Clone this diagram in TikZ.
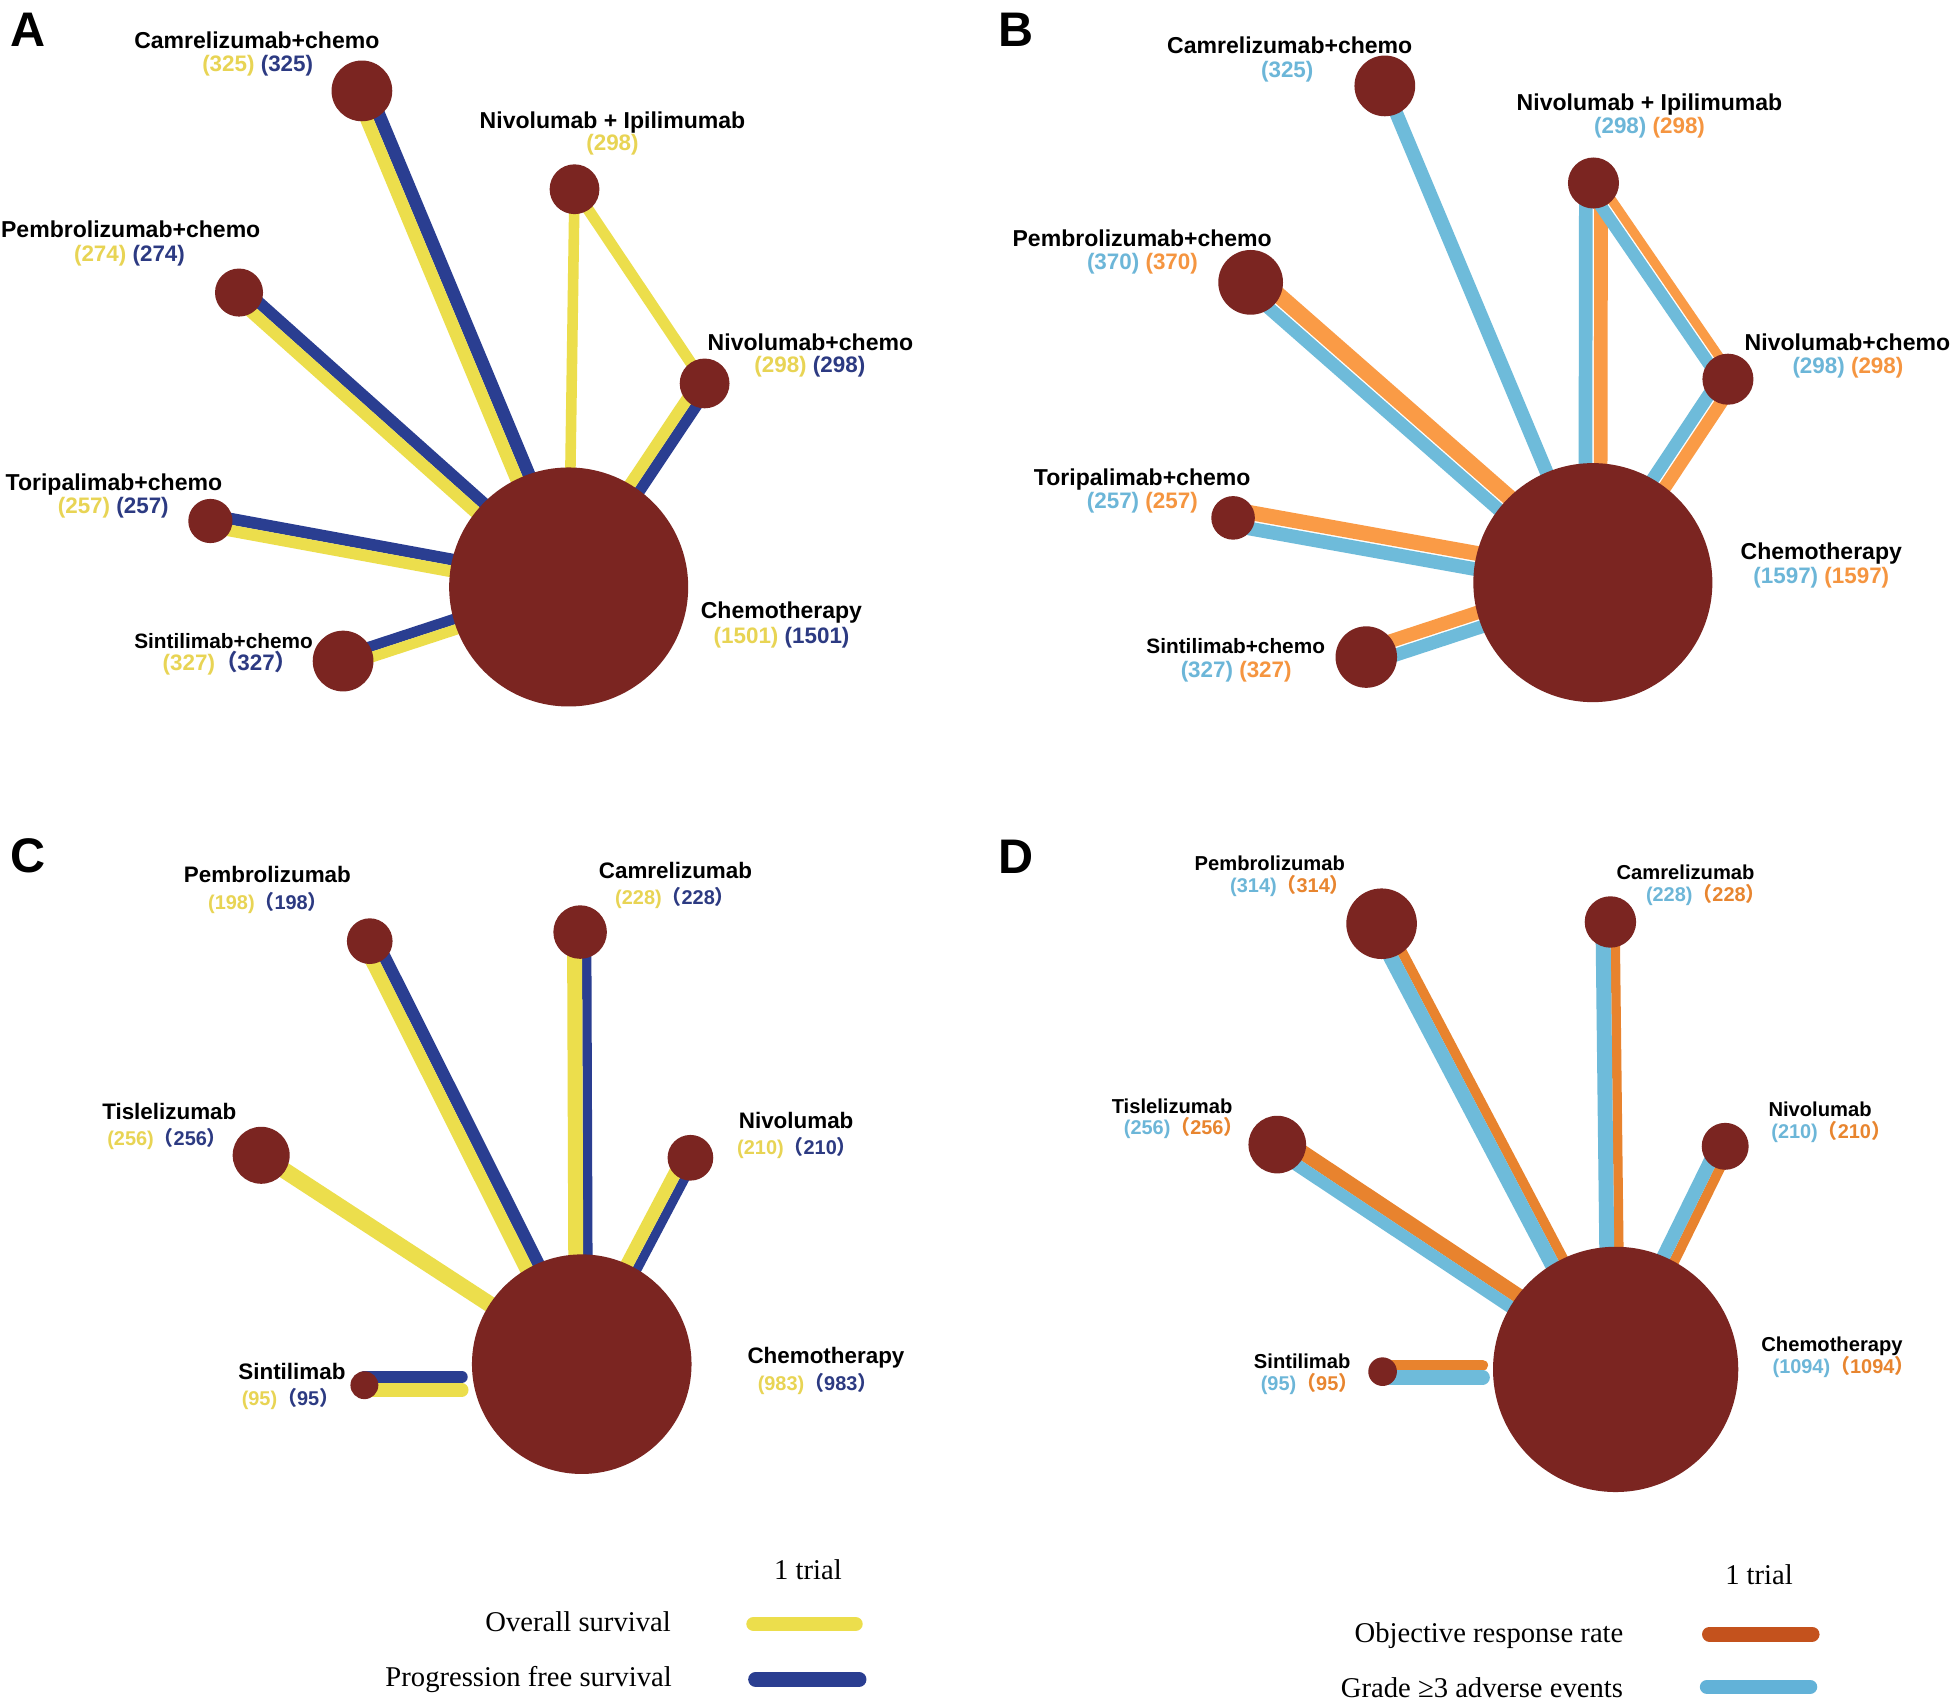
\documentclass[tikz,border=0pt]{standalone}
\usepackage{fontspec}
\setmainfont{Liberation Sans}
\newfontfamily\serif{Liberation Serif}
\newfontfamily\cjk{Noto Sans CJK SC}
\usetikzlibrary{calc}
\pgfdeclarelayer{bg}
\pgfsetlayers{bg,main}
\definecolor{nodered}{RGB}{123,37,33}
\definecolor{yel}{RGB}{236,222,76}
\definecolor{yeltxt}{RGB}{232,212,84}
\definecolor{navy}{RGB}{42,62,145}
\definecolor{navytxt}{RGB}{44,58,130}
\definecolor{lblue}{RGB}{110,187,218}
\definecolor{lbtxt}{RGB}{108,182,216}
\definecolor{orB}{RGB}{250,155,70}
\definecolor{orBtxt}{RGB}{245,149,64}
\definecolor{orD}{RGB}{232,131,46}
\definecolor{orDtxt}{RGB}{232,133,47}
\definecolor{orr}{RGB}{196,82,29}
\definecolor{legblue}{RGB}{98,178,216}
\newcommand\nmAB{\bfseries\fontsize{18.5}{20}\selectfont}
\newcommand\nmSin{\bfseries\fontsize{16.7}{20}\selectfont}
\newcommand\nmC{\bfseries\fontsize{18}{20}\selectfont}
\newcommand\nmD{\bfseries\fontsize{16.2}{18}\selectfont}
\newcommand\nuAB{\bfseries\fontsize{18}{20}\selectfont}
\newcommand\nuCD{\bfseries\fontsize{16}{18}\selectfont}
\newcommand\fwl{{\cjk （}}
\newcommand\fwr{{\cjk ）}}
\newcommand\oedge[6][]{\draw[#2, line width=#3pt, #1] ($(#5)!#4pt!90:(#6)$) -- ($(#6)!#4pt!-90:(#5)$);}
\tikzset{
  trt/.style={circle, fill=nodered, inner sep=0pt, minimum size=#1},
  nameAB/.style={inner sep=0pt, anchor=base, font=\nmAB},
  nameSin/.style={inner sep=0pt, anchor=base, font=\nmSin},
  nameC/.style={inner sep=0pt, anchor=base, font=\nmC},
  nameD/.style={inner sep=0pt, anchor=base, font=\nmD},
  numAB/.style={inner sep=0pt, anchor=base, font=\nuAB},
  numCD/.style={inner sep=0pt, anchor=base west, font=\nuCD},
  panel/.style={inner sep=0pt, anchor=base west, font=\bfseries\fontsize{39}{39}\selectfont},
  legtxt/.style={inner sep=0pt, font=\serif\fontsize{23}{26}\selectfont},
  legline/.style={line width=12pt, line cap=round},
}
\begin{document}
\begin{tikzpicture}[x=1pt, y=-1pt]
\useasboundingbox (0,0) rectangle (1568,1366);
\begin{pgfonlayer}{bg}
\fill[white] (0,0) rectangle (1568,1366);
\end{pgfonlayer}

% ---------------- Panel A ----------------
\node[panel] (lA) at (8,37) {A};
\node[trt=48.8pt] (camA) at (290.7,73) {};
\node[trt=40pt] (nipA) at (461.5,152) {};
\node[trt=38.6pt] (pemA) at (192,235) {};
\node[trt=40pt] (nicA) at (566,308) {};
\node[trt=35.5pt] (torA) at (169,418.5) {};
\node[trt=48.8pt] (sinA) at (275.6,531) {};
\node[trt=192pt] (cheA) at (456.8,471.5) {};

\node[nameAB] (camAl) at (206.3,39) {Camrelizumab+chemo};
\node[numAB] (camAn) at (207,57.2) {\color{yeltxt}(325) \color{navytxt}(325)};
\node[nameAB] (nipAl) at (492,103) {Nivolumab + Ipilimumab};
\node[numAB] (nipAn) at (492,121.2) {\color{yeltxt}(298)};
\node[nameAB] (pemAl) at (105,191) {Pembrolizumab+chemo};
\node[numAB] (pemAn) at (104,210.2) {\color{yeltxt}(274) \color{navytxt}(274)};
\node[nameAB] (nicAl) at (651,281.6) {Nivolumab+chemo};
\node[numAB] (nicAn) at (650.5,299.2) {\color{yeltxt}(298) \color{navytxt}(298)};
\node[nameAB] (torAl) at (91.5,394) {Toripalimab+chemo};
\node[numAB] (torAn) at (91,412.7) {\color{yeltxt}(257) \color{navytxt}(257)};
\node[nameSin] (sinAl) at (179.6,520.6) {Sintilimab+chemo};
\node[numAB, anchor=base west] (sinAn) at (130.5,538.2) {\color{yeltxt}(327)\color{navytxt}\fwl327\fwr};
\node[nameAB] (cheAl) at (627.7,497) {Chemotherapy};
\node[numAB] (cheAn) at (627.8,516.8) {\color{yeltxt}(1501) \color{navytxt}(1501)};

% ---------------- Panel B ----------------
\node[panel] (lB) at (802,37) {B};
\node[trt=48.8pt] (camB) at (1112.4,69) {};
\node[trt=41pt] (nipB) at (1280,147) {};
\node[trt=52pt] (pemB) at (1004.6,226.8) {};
\node[trt=41pt] (nicB) at (1388,304.6) {};
\node[trt=35pt] (torB) at (990.5,416) {};
\node[trt=49.4pt] (sinB) at (1097.5,527.8) {};
\node[trt=192pt] (cheB) at (1279.5,468) {};

\node[nameAB] (camBl) at (1036,43) {Camrelizumab+chemo};
\node[numAB] (camBn) at (1034,62.2) {\color{lbtxt}(325)};
\node[nameAB] (nipBl) at (1325,89) {Nivolumab + Ipilimumab};
\node[numAB] (nipBn) at (1325,107.2) {\color{lbtxt}(298) \color{orBtxt}(298)};
\node[nameAB] (pemBl) at (917.5,198) {Pembrolizumab+chemo};
\node[numAB] (pemBn) at (917.7,216.2) {\color{lbtxt}(370) \color{orBtxt}(370)};
\node[nameAB] (nicBl) at (1484,281.6) {Nivolumab+chemo};
\node[numAB] (nicBn) at (1484.4,300.2) {\color{lbtxt}(298) \color{orBtxt}(298)};
\node[nameAB] (torBl) at (917.5,390) {Toripalimab+chemo};
\node[numAB] (torBn) at (917.6,408.8) {\color{lbtxt}(257) \color{orBtxt}(257)};
\node[nameSin] (sinBl) at (992.6,524.6) {Sintilimab+chemo};
\node[numAB] (sinBn) at (993,544.2) {\color{lbtxt}(327) \color{orBtxt}(327)};
\node[nameAB] (cheBl) at (1463,449.5) {Chemotherapy};
\node[numAB] (cheBn) at (1463,468.9) {\color{lbtxt}(1597) \color{orBtxt}(1597)};

% ---------------- Panel C ----------------
\node[panel] (lC) at (8,701) {C};
\node[trt=36.7pt] (pemC) at (297,756) {};
\node[trt=43pt] (camC) at (466,748.7) {};
\node[trt=45.8pt] (tisC) at (209.8,928) {};
\node[trt=36.7pt] (nivC) at (554.6,930) {};
\node[trt=22.4pt] (sinC) at (292.7,1112.7) {};
\node[trt=176.4pt] (cheC) at (467.3,1095.8) {};
\coordinate (sinCe) at (371,1112.7);

\node[nameC] (pemCl) at (214.8,709) {Pembrolizumab};
\node[numCD] (pemCn) at (167,730.2) {\color{yeltxt}(198)\color{navytxt}\fwl198\fwr};
\node[nameC] (camCl) at (542.6,705.5) {Camrelizumab};
\node[numCD] (camCn) at (494,726.2) {\color{yeltxt}(228)\color{navytxt}\fwl228\fwr};
\node[nameC] (tisCl) at (136,899.4) {Tislelizumab};
\node[numCD] (tisCn) at (86,920.1) {\color{yeltxt}(256)\color{navytxt}\fwl256\fwr};
\node[nameC] (nivCl) at (639.5,906.6) {Nivolumab};
\node[numCD] (nivCn) at (592,927.3) {\color{yeltxt}(210)\color{navytxt}\fwl210\fwr};
\node[nameC] (sinCl) at (234.5,1108) {Sintilimab};
\node[numCD] (sinCn) at (194,1129.1) {\color{yeltxt}(95)\color{navytxt}\fwl95\fwr};
\node[nameC] (cheCl) at (663.5,1095) {Chemotherapy};
\node[numCD] (cheCn) at (608.5,1117.2) {\color{yeltxt}(983)\color{navytxt}\fwl983\fwr};

% ---------------- Panel D ----------------
\node[panel] (lD) at (802,701.5) {D};
\node[trt=56.7pt] (pemD) at (1109.8,742) {};
\node[trt=41.3pt] (camD) at (1293.6,740.6) {};
\node[trt=46.3pt] (tisD) at (1026,919.4) {};
\node[trt=37.7pt] (nivD) at (1385.8,920.8) {};
\node[trt=23pt] (sinD) at (1110.6,1101.8) {};
\node[trt=197pt] (cheD) at (1297.8,1100) {};
\coordinate (sinDe) at (1191,1101.8);

\node[nameD] (pemDl) at (1020,699) {Pembrolizumab};
\node[numCD] (pemDn) at (988,716.6) {\color{lbtxt}(314)\color{orDtxt}\fwl314\fwr};
\node[nameD] (camDl) at (1354,706.2) {Camrelizumab};
\node[numCD] (camDn) at (1322,724) {\color{lbtxt}(228)\color{orDtxt}\fwl228\fwr};
\node[nameD] (tisDl) at (941.5,894.7) {Tislelizumab};
\node[numCD] (tisDn) at (902.6,911.6) {\color{lbtxt}(256)\color{orDtxt}\fwl256\fwr};
\node[nameD] (nivDl) at (1462,897) {Nivolumab};
\node[numCD] (nivDn) at (1422.7,914.6) {\color{lbtxt}(210)\color{orDtxt}\fwl210\fwr};
\node[nameD] (sinDl) at (1046,1099) {Sintilimab};
\node[numCD] (sinDn) at (1012.6,1117.2) {\color{lbtxt}(95)\color{orDtxt}\fwl95\fwr};
\node[nameD] (cheDl) at (1471.6,1085.5) {Chemotherapy};
\node[numCD] (cheDn) at (1423.7,1103.6) {\color{lbtxt}(1094)\color{orDtxt}\fwl1094\fwr};

% ---------------- Legends ----------------
\node[legtxt, anchor=base] (trA) at (649,1269) {1 trial};
\node[legtxt, anchor=base east] (osA) at (539,1310.5) {Overall survival};
\node[legtxt, anchor=base east] (pfsA) at (539.8,1355) {Progression free survival};
\coordinate (osA1) at (605.5,1304.5);
\coordinate (osA2) at (687,1304.5);
\coordinate (pfA1) at (607,1349);
\coordinate (pfA2) at (690,1349);
\node[legtxt, anchor=base] (trD) at (1413,1273) {1 trial};
\node[legtxt, anchor=base east] (orD) at (1304.2,1319) {Objective response rate};
\node[legtxt, anchor=base east] (aeD) at (1303.9,1363.5) {Grade ≥3 adverse events};
\coordinate (orD1) at (1373.2,1312.6);
\coordinate (orD2) at (1455.6,1312.6);
\coordinate (aeD1) at (1371.2,1355);
\coordinate (aeD2) at (1454,1355);

\begin{pgfonlayer}{bg}
% A
\oedge{navy}{10.5}{5.25}{camA}{cheA}
\oedge{yel}{10.5}{-5.25}{camA}{cheA}
\oedge{navy}{9.5}{4.75}{pemA}{cheA}
\oedge{yel}{10}{-5}{pemA}{cheA}
\oedge{navy}{9}{4.5}{nicA}{cheA}
\oedge{yel}{9.5}{-4.75}{nicA}{cheA}
\oedge{navy}{9.5}{4.75}{torA}{cheA}
\oedge{yel}{9.5}{-4.75}{torA}{cheA}
\oedge{navy}{8.5}{4.25}{sinA}{cheA}
\oedge{yel}{8.5}{-4.25}{sinA}{cheA}
\oedge{yel}{8.5}{0}{nipA}{cheA}
\oedge{yel}{9}{0}{nipA}{nicA}
% B
\oedge{lblue}{11}{0}{camB}{cheB}
\oedge{orB}{13}{7.1}{pemB}{cheB}
\oedge{lblue}{10.5}{-5.85}{pemB}{cheB}
\oedge{orB}{11}{6.1}{nipB}{cheB}
\oedge{lblue}{11}{-6.1}{nipB}{cheB}
\oedge{orB}{7.5}{4.35}{nipB}{nicB}
\oedge{lblue}{10}{-5.6}{nipB}{nicB}
\oedge{orB}{10.5}{5.85}{nicB}{cheB}
\oedge{lblue}{10.5}{-5.85}{nicB}{cheB}
\oedge{orB}{12}{6.6}{torB}{cheB}
\oedge{lblue}{11}{-6.1}{torB}{cheB}
\oedge{orB}{11}{6.1}{sinB}{cheB}
\oedge{lblue}{10.5}{-5.85}{sinB}{cheB}
% C
\oedge{navy}{10}{5}{pemC}{cheC}
\oedge{yel}{11}{-5.5}{pemC}{cheC}
\oedge{navy}{7.5}{5.25}{camC}{cheC}
\oedge{yel}{12}{-4.5}{camC}{cheC}
\oedge{yel}{13}{0}{tisC}{cheC}
\oedge{navy}{7.5}{3.75}{nivC}{cheC}
\oedge{yel}{10.5}{-5.25}{nivC}{cheC}
\oedge[line cap=round]{navy}{9.4}{6.7}{sinC}{sinCe}
\oedge[line cap=round]{yel}{10.7}{-3.8}{sinC}{sinCe}
% D
\oedge{orD}{8}{4}{pemD}{cheD}
\oedge{lblue}{12}{-6}{pemD}{cheD}
\oedge{orD}{7.5}{3.75}{camD}{cheD}
\oedge{lblue}{12}{-6}{camD}{cheD}
\oedge{orD}{12}{6}{tisD}{cheD}
\oedge{lblue}{10}{-5}{tisD}{cheD}
\oedge{orD}{8}{4}{nivD}{cheD}
\oedge{lblue}{11}{-5.5}{nivD}{cheD}
\oedge[line cap=round]{orD}{8.6}{5.2}{sinD}{sinDe}
\oedge[line cap=round]{lblue}{11.5}{-4.7}{sinD}{sinDe}
% legend lines
\draw[legline, yel] (osA1) -- (osA2);
\draw[legline, navy] (pfA1) -- (pfA2);
\draw[legline, orr] (orD1) -- (orD2);
\draw[legline, legblue, line width=11.5pt] (aeD1) -- (aeD2);
\end{pgfonlayer}
\end{tikzpicture}
\end{document}
